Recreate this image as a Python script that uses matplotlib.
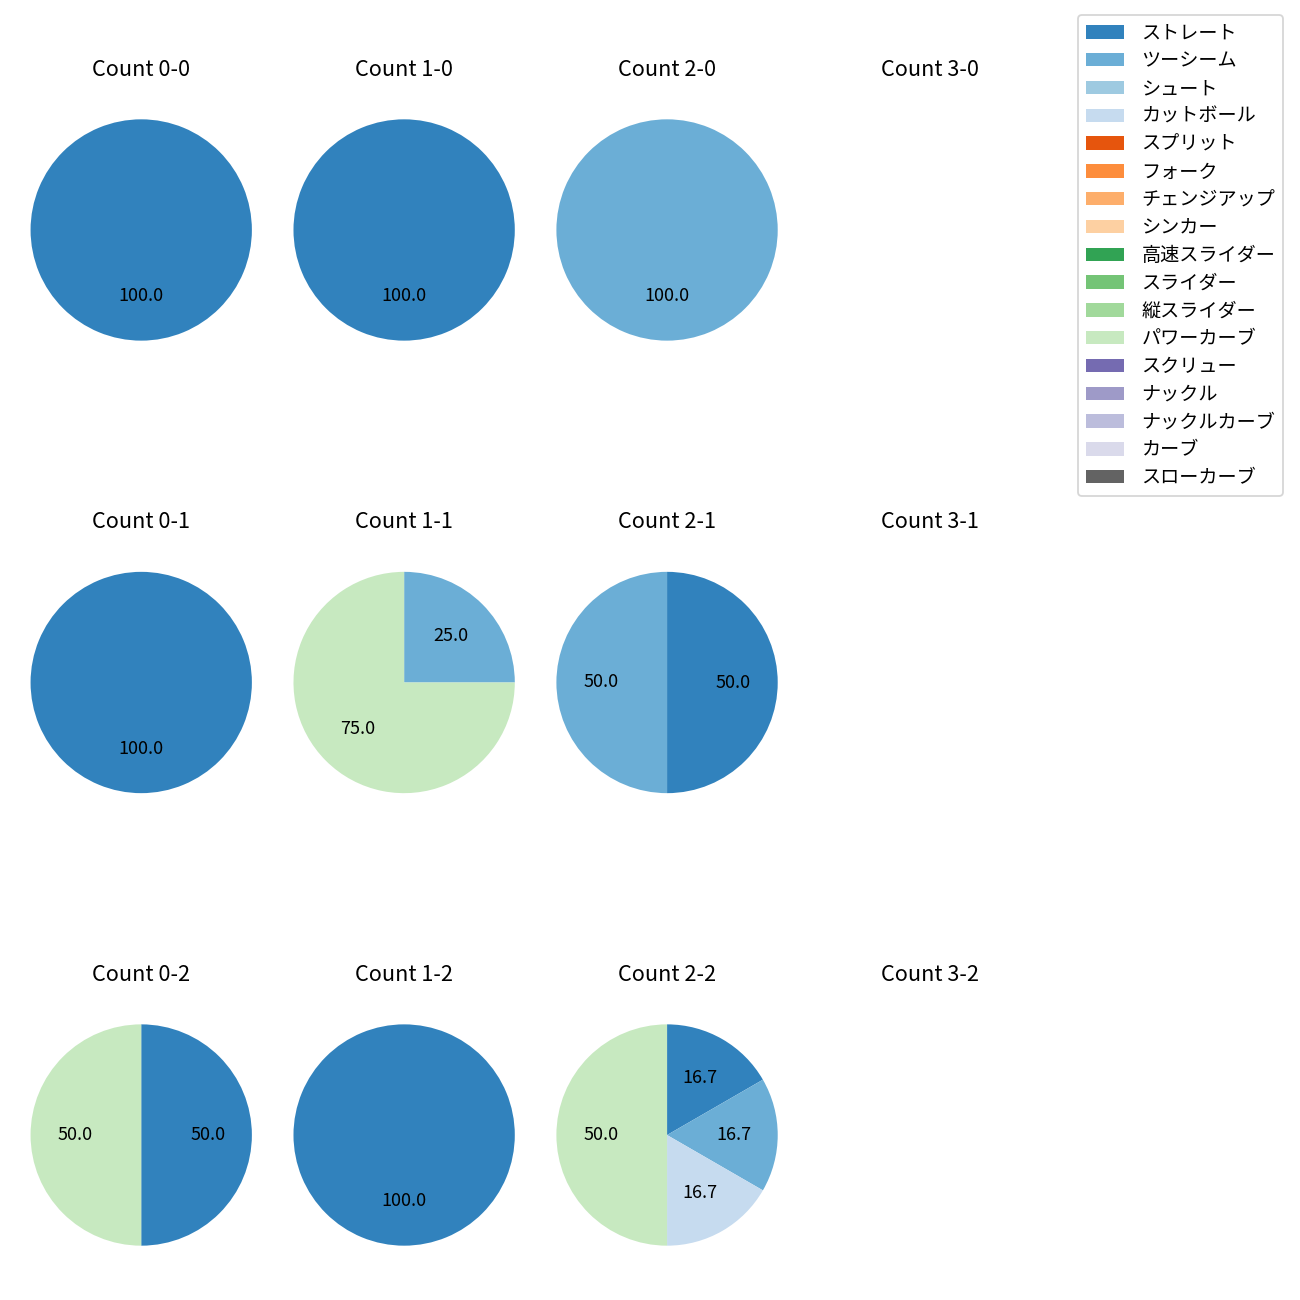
import matplotlib.pyplot as plt
from matplotlib.patches import Patch

plt.rcParams["font.family"] = ["Noto Sans CJK JP", "DejaVu Sans"]

# Pitch types in legend order (colours follow tab20c order)
PITCHES = [
    "ストレート", "ツーシーム", "シュート", "カットボール", "スプリット",
    "フォーク", "チェンジアップ", "シンカー", "高速スライダー", "スライダー",
    "縦スライダー", "パワーカーブ", "スクリュー", "ナックル", "ナックルカーブ",
    "カーブ", "スローカーブ",
]

BALLS = [0, 1, 2, 3]
STRIKES = [0, 1, 2]

# Pitch counts per ball-strike count (only non-zero entries)
C_0_0 = {"ストレート": 1}
C_1_0 = {"ストレート": 1}
C_2_0 = {"ツーシーム": 1}
C_3_0 = {}
C_0_1 = {"ストレート": 1}
C_1_1 = {"ツーシーム": 1, "パワーカーブ": 3}
C_2_1 = {"ストレート": 1, "ツーシーム": 1}
C_3_1 = {}
C_0_2 = {"ストレート": 1, "パワーカーブ": 1}
C_1_2 = {"ストレート": 1}
C_2_2 = {"ストレート": 1, "ツーシーム": 1, "カットボール": 1, "パワーカーブ": 3}
C_3_2 = {}

COUNTS = {
    (0, 0): C_0_0, (1, 0): C_1_0, (2, 0): C_2_0, (3, 0): C_3_0,
    (0, 1): C_0_1, (1, 1): C_1_1, (2, 1): C_2_1, (3, 1): C_3_1,
    (0, 2): C_0_2, (1, 2): C_1_2, (2, 2): C_2_2, (3, 2): C_3_2,
}


def main() -> None:
    cmap = plt.get_cmap("tab20c")
    colors = {p: cmap(i) for i, p in enumerate(PITCHES)}

    fig, axes = plt.subplots(len(STRIKES), len(BALLS), figsize=(10, 10), dpi=130)
    fig.subplots_adjust(left=0.015, right=0.809, top=0.93, bottom=0.02,
                        wspace=0.08, hspace=0.628)

    for r, s in enumerate(STRIKES):
        for c, b in enumerate(BALLS):
            ax = axes[r, c]
            data = COUNTS[(b, s)]
            ax.set_title(f"Count {b}-{s}", pad=8.5)
            if not data:
                ax.axis("off")
                continue
            names = [p for p in PITCHES if data.get(p, 0) > 0]
            vals = [data[p] for p in names]
            ax.pie(vals, colors=[colors[p] for p in names], autopct="%.1f",
                   startangle=90, counterclock=False)
            ax.axis("equal")

    handles = [Patch(facecolor=colors[p], label=p) for p in PITCHES]
    fig.legend(handles=handles, loc="upper right", fontsize=10.6,
               bbox_to_anchor=(0.987, 0.9885), borderaxespad=0,
               handlelength=2.0, handletextpad=0.9, labelspacing=0.355)

    fig.savefig("out.png")
    plt.close(fig)


if __name__ == "__main__":
    main()
